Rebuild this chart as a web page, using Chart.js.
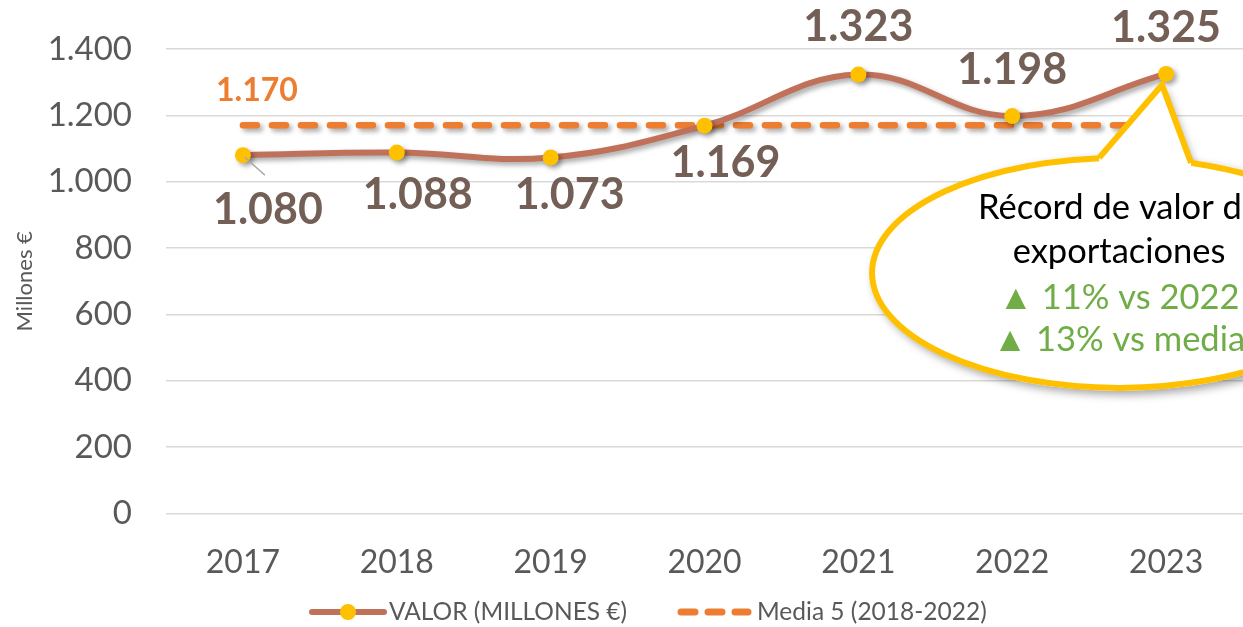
<!DOCTYPE html>
<html>
<head>
<meta charset="utf-8">
<script src="https://cdn.jsdelivr.net/npm/chart.js@4.4.0/dist/chart.umd.min.js"></script>
<style>
  html, body { margin: 0; padding: 0; background: #fff; }
</style>
</head>
<body>
<canvas id="chart" width="1243" height="627"></canvas>
<script>
const years = ['2017', '2018', '2019', '2020', '2021', '2022', '2023'];
const valor = [1080, 1088, 1073, 1169, 1323, 1198, 1325];
const media = [1170, 1170, 1170, 1170, 1170, 1170, 1170];
const seriesNames = ['VALOR (MILLONES €)', 'Media 5 (2018-2022)'];
const axisTitle = 'Millones €';
const calloutLines = ['Récord de valor de', 'exportaciones', '▲ 11% vs 2022', '▲ 13% vs media'];

// label placement (pixel offsets from each point)
const labelOffsets = [[25, 55], [21, 43], [19, 38], [21, 37], [0, -47], [0, -46], [0, -46]];
const mediaLabelOffset = [14, -35];

const FONT = 'Lato, "Open Sans", sans-serif';
const lineColor = '#C0715A';
const pointColor = '#FFC000';
const mediaColor = '#ED7D31';
const textGrey = '#595959';

function fmt(v) {
    return String(v).replace(/\B(?=(\d{3})+(?!\d))/g, '.');
}

const shadowPlugin = {
    id: 'shadow',
    beforeDatasetDraw(chart) {
        const ctx = chart.ctx;
        ctx.save();
        ctx.shadowColor = 'rgba(0,0,0,0.35)';
        ctx.shadowBlur = 5;
        ctx.shadowOffsetX = 3;
        ctx.shadowOffsetY = 3;
    },
    afterDatasetDraw(chart) {
        chart.ctx.restore();
    }
};

const labelPlugin = {
    id: 'labels',
    afterDatasetsDraw(chart) {
        const ctx = chart.ctx;
        const pts = chart.getDatasetMeta(0).data;
        ctx.save();
        ctx.textAlign = 'center';
        ctx.textBaseline = 'middle';

        // leader line for the first label
        ctx.strokeStyle = '#A6A6A6';
        ctx.lineWidth = 1.5;
        ctx.beginPath();
        ctx.moveTo(pts[0].x + 2, pts[0].y + 2);
        ctx.lineTo(pts[0].x + 22, pts[0].y + 20);
        ctx.stroke();

        ctx.font = 'bold 43px ' + FONT;
        ctx.fillStyle = '#745F57';
        pts.forEach((p, i) => {
            ctx.fillText(fmt(valor[i]), p.x + labelOffsets[i][0], p.y + labelOffsets[i][1]);
        });

        const m = chart.getDatasetMeta(1).data[0];
        ctx.font = 'bold 32px ' + FONT;
        ctx.fillStyle = mediaColor;
        ctx.fillText(fmt(media[0]), m.x + mediaLabelOffset[0], m.y + mediaLabelOffset[1]);
        ctx.restore();
    }
};

const calloutPlugin = {
    id: 'callout',
    afterDraw(chart) {
        const ctx = chart.ctx;
        const tip = chart.getDatasetMeta(0).data[6];
        const tx = tip.x - 4, ty = tip.y + 11;
        const cx = tip.x - 47, cy = tip.y + 199;
        const rx = 247, ry = 115;
        const b1 = [tip.x - 67, tip.y + 84];
        const b2 = [tip.x + 25, tip.y + 89];

        ctx.save();
        // shadow of the whole shape
        ctx.shadowColor = 'rgba(0,0,0,0.35)';
        ctx.shadowBlur = 8;
        ctx.shadowOffsetX = 4;
        ctx.shadowOffsetY = 4;
        ctx.fillStyle = '#fff';
        ctx.beginPath();
        ctx.ellipse(cx, cy, rx + 3, ry + 3, 0, 0, Math.PI * 2);
        ctx.fill();
        ctx.beginPath();
        ctx.moveTo(b1[0], b1[1]);
        ctx.lineTo(tx, ty);
        ctx.lineTo(b2[0], b2[1]);
        ctx.closePath();
        ctx.fill();
        ctx.restore();

        ctx.save();
        ctx.lineWidth = 6;
        ctx.strokeStyle = pointColor;
        ctx.fillStyle = '#fff';
        ctx.beginPath();
        ctx.ellipse(cx, cy, rx, ry, 0, 0, Math.PI * 2);
        ctx.fill();
        ctx.stroke();

        ctx.beginPath();
        ctx.moveTo(b1[0], b1[1]);
        ctx.lineTo(tx, ty);
        ctx.lineTo(b2[0], b2[1]);
        ctx.lineTo(b2[0], b2[1] + 10);
        ctx.lineTo(b1[0], b1[1] + 10);
        ctx.closePath();
        ctx.fill();

        ctx.lineJoin = 'miter';
        ctx.beginPath();
        ctx.moveTo(b1[0], b1[1]);
        ctx.lineTo(tx, ty);
        ctx.lineTo(b2[0], b2[1]);
        ctx.stroke();

        ctx.textAlign = 'center';
        ctx.textBaseline = 'middle';
        ctx.font = '34.5px ' + FONT;
        const ys = [cy - 65, cy - 21, cy + 25, cy + 67];
        const colors = ['#000', '#000', '#70AD47', '#70AD47'];
        calloutLines.forEach((t, i) => {
            ctx.fillStyle = colors[i];
            ctx.fillText(t, cx, ys[i]);
        });
        ctx.restore();
    }
};

const legendPlugin = {
    id: 'customLegend',
    afterDraw(chart) {
        const ctx = chart.ctx;
        const y = chart.height - 15;
        ctx.save();
        ctx.font = '24.5px ' + FONT;
        ctx.textBaseline = 'middle';
        ctx.fillStyle = textGrey;

        // series 1: line with marker
        let x = 312;
        ctx.strokeStyle = lineColor;
        ctx.lineWidth = 6;
        ctx.lineCap = 'round';
        ctx.beginPath();
        ctx.moveTo(x, y);
        ctx.lineTo(x + 72, y);
        ctx.stroke();
        ctx.fillStyle = pointColor;
        ctx.beginPath();
        ctx.arc(x + 36, y, 8, 0, Math.PI * 2);
        ctx.fill();
        ctx.fillStyle = textGrey;
        ctx.fillText(seriesNames[0], x + 77, y);

        // series 2: dashed
        x = 678;
        ctx.strokeStyle = mediaColor;
        ctx.lineWidth = 7;
        ctx.setLineDash([14, 13]);
        ctx.beginPath();
        ctx.moveTo(x + 3, y);
        ctx.lineTo(x + 70, y);
        ctx.stroke();
        ctx.setLineDash([]);
        ctx.fillText(seriesNames[1], x + 79, y);
        ctx.restore();
    }
};

new Chart(document.getElementById('chart'), {
    type: 'line',
    data: {
        labels: years,
        datasets: [{
            label: seriesNames[0],
            data: valor,
            borderColor: lineColor,
            borderWidth: 6,
            tension: 0.4,
            pointRadius: 8,
            pointBackgroundColor: pointColor,
            pointBorderWidth: 0,
            pointBorderColor: pointColor
        }, {
            label: seriesNames[1],
            data: media,
            borderColor: mediaColor,
            borderWidth: 6.5,
            borderDash: [14, 15],
            borderCapStyle: 'round',
            pointRadius: 0,
            fill: false
        }]
    },
    options: {
        responsive: false,
        animation: false,
        layout: { autoPadding: false, padding: { top: 49, right: 0, bottom: 23, left: 0 } },
        plugins: {
            legend: { display: false },
            tooltip: { enabled: false }
        },
        scales: {
            x: {
                offset: true,
                grid: { display: false },
                border: { display: false },
                ticks: {
                    color: textGrey,
                    font: { family: FONT, size: 32 },
                    padding: 22
                },
                afterFit(scale) {
                    scale.paddingLeft = 0;
                    scale.paddingRight = 0;
                }
            },
            y: {
                min: 0,
                max: 1400,
                ticks: {
                    stepSize: 200,
                    color: textGrey,
                    font: { family: FONT, size: 33 },
                    padding: 34,
                    callback: v => fmt(v)
                },
                grid: { color: '#D9D9D9', lineWidth: 1.5, tickLength: 0 },
                border: { display: false },
                title: {
                    display: true,
                    text: axisTitle,
                    color: textGrey,
                    font: { family: FONT, size: 22 },
                    padding: { top: 12, bottom: 0 }
                },
                afterFit(scale) {
                    scale.width = 166;
                    scale.paddingTop = 0;
                    scale.paddingBottom = 0;
                }
            }
        }
    },
    plugins: [shadowPlugin, labelPlugin, calloutPlugin, legendPlugin]
});
</script>
</body>
</html>
